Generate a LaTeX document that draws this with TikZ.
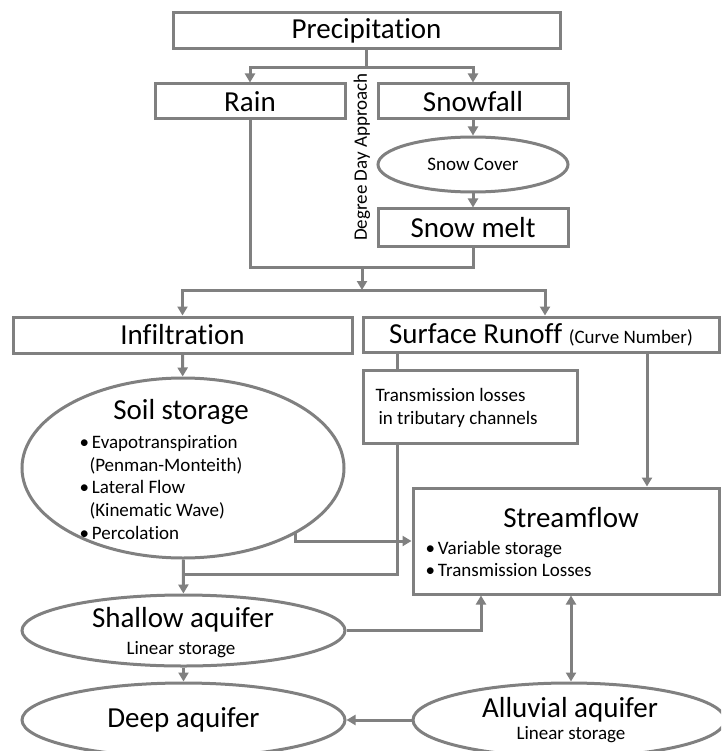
\documentclass[tikz,border=0pt]{standalone}
\usepackage{fontspec}
\setmainfont{Carlito}[Ligatures={NoCommon,NoContextual}]
\usetikzlibrary{arrows.meta,shapes.geometric}
\definecolor{linegray}{RGB}{128,128,128}
\begin{document}
\begin{tikzpicture}[x=1pt,y=-1pt,
  conn/.style={draw=linegray,line width=3pt},
  arr/.style={conn,-{Triangle[length=9pt,width=10pt]}},
  arrboth/.style={conn,{Triangle[length=9pt,width=10pt]}-{Triangle[length=9pt,width=10pt]}},
  box/.style={draw=linegray,line width=3pt,fill=white,rectangle,inner sep=0pt},
  oval/.style={draw=linegray,line width=3pt,fill=white,ellipse,inner sep=0pt},
  big/.style={font=\fontsize{29}{31}\selectfont},
  small/.style={font=\fontsize{19}{22.75}\selectfont},
]
\useasboundingbox (0,0) rectangle (721,751);
\fill[white] (0,0) rectangle (721,751);
\clip (0,0) rectangle (721,751);

% precipitation split
\node[box,big,minimum width=387pt,minimum height=36pt] (prec) at (366.5,31) {Precipitation};
\node[box,big,minimum width=190pt,minimum height=35pt] (rain) at (250,101.5) {Rain};
\node[box,big,minimum width=190pt,minimum height=35pt] (snowfall) at (473,101.5) {Snowfall};
\node[oval,small,minimum width=190pt,minimum height=55pt] (snowcover) at (473,164.5) {Snow Cover};
\node[box,big,minimum width=190pt,minimum height=37pt] (snowmelt) at (473,227.5) {Snow melt};
\node[small,rotate=90] (degree) at (362,157) {Degree Day Approach};

% partition of water input
\node[box,big,minimum width=339pt,minimum height=36pt] (infil) at (182.5,335) {Infiltration};
\node[box,big,minimum width=356pt,minimum height=35pt] (surf) at (541,334.5)
  {Surface Runoff {\fontsize{19}{20}\selectfont(Curve Number)}};
\node[box,minimum width=214pt,minimum height=73pt] (trans) at (470,406.5) {};
\node[small,align=left,anchor=west] (transtext) at (372,408)
  {Transmission losses\\\hspace*{3pt}in tributary channels};

% storages
\node[oval,minimum width=322pt,minimum height=180pt] (soil) at (183,468) {};
\node[big] (soiltitle) at (181,412) {Soil storage};
\node[small,align=left,anchor=west] (soillist) at (76,487.5)
  {\textbullet\hspace{3pt}Evapotranspiration\\
   \hspace*{10pt}(Penman-Monteith)\\
   \textbullet\hspace{3pt}Lateral Flow\\
   \hspace*{10pt}(Kinematic Wave)\\
   \textbullet\hspace{3pt}Percolation};

\node[box,minimum width=306pt,minimum height=106pt] (stream) at (566,541) {};
\node[big] (streamtitle) at (571,518) {Streamflow};
\node[small,align=left,anchor=west] (streamlist) at (422,559)
  {\textbullet\hspace{3pt}Variable storage\\
   \textbullet\hspace{3pt}Transmission Losses};

\node[oval,minimum width=323pt,minimum height=71pt] (shallow) at (183.5,630.5) {};
\node[big] (shallowtitle) at (183,620) {Shallow aquifer};
\node[small] (shallowsub) at (181,650) {Linear storage};

\node[oval,big,minimum width=323pt,minimum height=74pt] (deep) at (183.5,720) {Deep aquifer};

\node[oval,minimum width=312pt,minimum height=74pt] (alluv) at (569,720) {};
\node[big] (alluvtitle) at (570,710) {Alluvial aquifer};
\node[small] (alluvsub) at (571,735) {Linear storage};

% junction points
\coordinate (j1) at (366.5,68);
\coordinate (j2) at (362,267);
\coordinate (j3) at (362,290);
\coordinate (j4) at (183,574);
\coordinate (xt) at (397,0);
\coordinate (xs) at (647,0);
\coordinate (xa) at (481,0);
\coordinate (xb) at (571,0);
\coordinate (soilout) at (295,532);

% connectors
\draw[conn] (prec) -- (j1);
\draw[arr] (j1) -| (rain);
\draw[arr] (j1) -| (snowfall);
\draw[arr] (snowfall) -- (snowcover);
\draw[arr] (snowcover) -- (snowmelt);
\draw[conn] (rain.south) |- (j2) -| (snowmelt.south);
\draw[arr] (j2) -- (j3);
\draw[arr] (j3) -| (infil);
\draw[arr] (j3) -| ([xshift=4pt]surf.north);
\draw[arr] (infil) -- (soil);
\draw[conn] (surf.south -| xt) -- (trans.north -| xt);
\draw[conn] (trans.south -| xt) |- (j4);
\draw[arr] (surf.south -| xs) -- (stream.north -| xs);
\draw[arr] (soilout) |- (stream.west);
\draw[arr] (soil) -- (shallow);
\draw[arr] (shallow.east) -| (stream.south -| xa);
\draw[arrboth] (stream.south -| xb) -- (alluv.north -| xb);
\draw[arr] (shallow) -- (deep);
\draw[arr] (alluv) -- (deep);
\end{tikzpicture}
\end{document}
